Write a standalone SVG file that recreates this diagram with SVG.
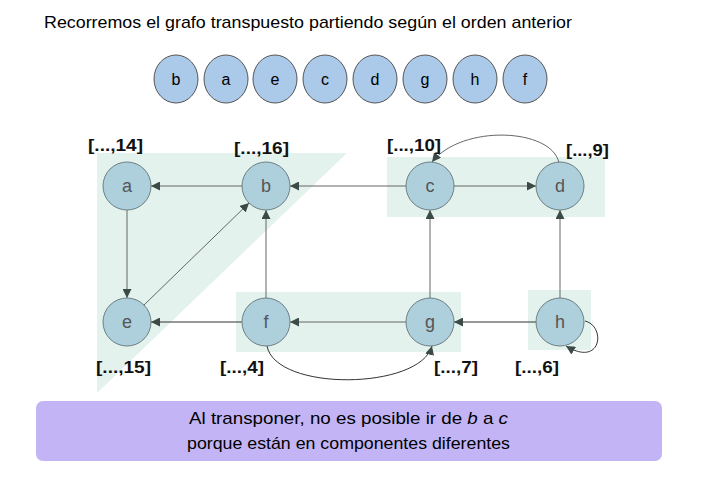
<svg xmlns="http://www.w3.org/2000/svg" width="712" height="489" viewBox="0 0 712 489">
<style>
.t{font-family:"Liberation Sans",Arial,sans-serif;fill:#000}
.q{fill:#abc9e8;stroke:#555;stroke-width:1}
.ql{font-family:"Liberation Sans",Arial,sans-serif;font-size:16px;fill:#000;text-anchor:middle}
.n{fill:#aed0dc;stroke:#6d7e84;stroke-width:1}
.nl{font-family:"Liberation Sans",Arial,sans-serif;font-size:18px;fill:#555;text-anchor:middle}
.lab{font-family:"Liberation Sans",Arial,sans-serif;font-size:17px;font-weight:bold;fill:#111}
.zone{fill:#e3f2ec}
.e{fill:none;stroke:#666;stroke-width:1;marker-end:url(#ah)}
.ed{fill:none;stroke:#333;stroke-width:1;marker-end:url(#ah)}
</style>
<defs>
<marker id="ah" viewBox="0 0 10 10" refX="10" refY="5" markerWidth="9" markerHeight="9" markerUnits="userSpaceOnUse" orient="auto">
<path d="M0,0 L10,5 L0,10 z" fill="#3b4a46"/>
</marker>
</defs>
<rect width="712" height="489" fill="#fff"/>
<text class="t" x="44" y="28" font-size="17" textLength="528" lengthAdjust="spacingAndGlyphs">Recorremos el grafo transpuesto partiendo según el orden anterior</text>
<g id="order">
<ellipse class="q" cx="176" cy="79" rx="22" ry="24"/><text class="ql" x="176" y="85">b</text>
<ellipse class="q" cx="226" cy="79" rx="22" ry="24"/><text class="ql" x="226" y="85">a</text>
<ellipse class="q" cx="275" cy="79" rx="22" ry="24"/><text class="ql" x="275" y="85">e</text>
<ellipse class="q" cx="325" cy="79" rx="22" ry="24"/><text class="ql" x="325" y="85">c</text>
<ellipse class="q" cx="375" cy="79" rx="22" ry="24"/><text class="ql" x="375" y="85">d</text>
<ellipse class="q" cx="425" cy="79" rx="22" ry="24"/><text class="ql" x="425" y="85">g</text>
<ellipse class="q" cx="475" cy="79" rx="22" ry="24"/><text class="ql" x="475" y="85">h</text>
<ellipse class="q" cx="525" cy="79" rx="22" ry="24"/><text class="ql" x="525" y="85">f</text>
</g>
<g id="components">
<polygon class="zone" points="97,153 347,153 97,393"/>
<rect class="zone" x="387" y="157" width="218" height="60"/>
<rect class="zone" x="236" y="292" width="225" height="60"/>
<rect class="zone" x="528" y="290" width="63" height="60"/>
</g>
<g id="connectors">
<line class="e" x1="242" y1="186" x2="151" y2="186"/>
<line class="e" x1="127" y1="210" x2="127" y2="298"/>
<line class="e" x1="144" y1="305" x2="249" y2="203"/>
<line class="e" x1="266" y1="298" x2="266" y2="210"/>
<line class="ed" x1="242" y1="322" x2="151" y2="322"/>
<line class="e" x1="406" y1="322" x2="290" y2="322"/>
<line class="e" x1="406" y1="186" x2="290" y2="186"/>
<line class="e" x1="454" y1="186" x2="536" y2="186"/>
<line class="e" x1="430" y1="298" x2="430" y2="210"/>
<line class="e" x1="560" y1="298" x2="560" y2="210"/>
<line class="ed" x1="536" y1="322" x2="454" y2="322"/>
<path class="e" d="M559,163 C552,128 462,124 432,162"/>
<path class="ed" d="M585,321 C606,326 602,368 566,346"/>
<path class="ed" d="M267,346 C276,392 420,390 432,346"/>
</g>
<g id="node-a"><circle class="n" cx="127" cy="186" r="24"/><text class="nl" x="127" y="192">a</text></g>
<g id="node-b"><circle class="n" cx="266" cy="186" r="24"/><text class="nl" x="266" y="192">b</text></g>
<g id="node-c"><circle class="n" cx="430" cy="186" r="24"/><text class="nl" x="430" y="192">c</text></g>
<g id="node-d"><circle class="n" cx="560" cy="186" r="24"/><text class="nl" x="560" y="192">d</text></g>
<g id="node-e"><circle class="n" cx="127" cy="322" r="24"/><text class="nl" x="127" y="328">e</text></g>
<g id="node-f"><circle class="n" cx="266" cy="322" r="24"/><text class="nl" x="266" y="328">f</text></g>
<g id="node-g"><circle class="n" cx="430" cy="322" r="24"/><text class="nl" x="430" y="328">g</text></g>
<g id="node-h"><circle class="n" cx="560" cy="322" r="24"/><text class="nl" x="560" y="328">h</text></g>
<g id="labels">
<text class="lab" x="88" y="151" textLength="55" lengthAdjust="spacingAndGlyphs">[...,14]</text>
<text class="lab" x="234" y="154" textLength="55" lengthAdjust="spacingAndGlyphs">[...,16]</text>
<text class="lab" x="387" y="151" textLength="54" lengthAdjust="spacingAndGlyphs">[...,10]</text>
<text class="lab" x="566" y="156" textLength="43" lengthAdjust="spacingAndGlyphs">[...,9]</text>
<text class="lab" x="96" y="373" textLength="55" lengthAdjust="spacingAndGlyphs">[...,15]</text>
<text class="lab" x="220" y="373" textLength="44" lengthAdjust="spacingAndGlyphs">[...,4]</text>
<text class="lab" x="434" y="373" textLength="44" lengthAdjust="spacingAndGlyphs">[...,7]</text>
<text class="lab" x="515" y="373" textLength="44" lengthAdjust="spacingAndGlyphs">[...,6]</text>
</g>
<g id="note">
<rect x="36" y="401" width="626" height="60" rx="7" fill="#c3b5f5"/>
<text class="t" x="189" y="424" font-size="17" textLength="319" lengthAdjust="spacingAndGlyphs">Al transponer, no es posible ir de <tspan font-style="italic">b</tspan> a <tspan font-style="italic">c</tspan></text>
<text class="t" x="187" y="449" font-size="17" textLength="323" lengthAdjust="spacingAndGlyphs">porque están en componentes diferentes</text>
</g>
</svg>
